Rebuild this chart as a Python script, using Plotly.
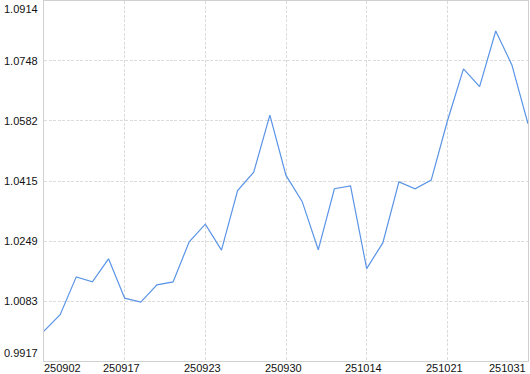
import plotly.graph_objects as go

# Data
point_index = list(range(31))
values = [1.0000, 1.0045, 1.0150, 1.0136, 1.0200, 1.0091, 1.0080, 1.0128, 1.0136,
          1.0247, 1.0296, 1.0224, 1.0389, 1.0440, 1.0598, 1.0431, 1.0359, 1.0225,
          1.0394, 1.0402, 1.0173, 1.0244, 1.0413, 1.0394, 1.0418, 1.0581, 1.0726,
          1.0677, 1.0831, 1.0737, 1.0574]
x_tick_pos = [0, 5, 10, 15, 20, 25, 30]
x_tick_labels = ["250902", "250917", "250923", "250930", "251014", "251021", "251031"]
y_tick_vals = [0.9917, 1.0083, 1.0249, 1.0415, 1.0582, 1.0748, 1.0914]
y_tick_labels = ["0.9917", "1.0083", "1.0249", "1.0415", "1.0582", "1.0748", "1.0914"]

FONT = "Liberation Sans"
TEXT_COLOR = "#111111"

fig = go.Figure()
fig.add_trace(go.Scatter(
    x=point_index, y=values, mode="lines",
    line=dict(color="#5a94e6", width=1.2),
    hoverinfo="skip", showlegend=False,
))

annotations = []
# y-axis labels
n_y = len(y_tick_vals)
for i, (v, lab) in enumerate(zip(y_tick_vals, y_tick_labels)):
    if i == 0:
        ya = "bottom"
    elif i == n_y - 1:
        ya = "top"
    else:
        ya = "middle"
    annotations.append(dict(
        x=0, xref="paper", y=v, yref="y", text=lab, showarrow=False,
        xanchor="right", yanchor=ya, xshift=-4,
        font=dict(family=FONT, size=11, color=TEXT_COLOR),
    ))
# x-axis labels
n_x = len(x_tick_pos)
for i, (p, lab) in enumerate(zip(x_tick_pos, x_tick_labels)):
    if i == 0:
        xa, xs = "left", -2
    elif i == n_x - 1:
        xa, xs = "right", 0
    else:
        xa, xs = "center", -3
    annotations.append(dict(
        x=p, xref="x", y=0, yref="paper", text=lab, showarrow=False,
        xanchor=xa, yanchor="top", xshift=xs, yshift=1,
        font=dict(family=FONT, size=11, color=TEXT_COLOR),
    ))

fig.update_layout(
    width=530, height=374,
    margin=dict(l=44, r=2, t=1, b=13),
    paper_bgcolor="white", plot_bgcolor="white",
    annotations=annotations,
    xaxis=dict(
        range=[0, 30], tickvals=x_tick_pos, showticklabels=False, ticks="",
        showgrid=True, gridcolor="#dcdcdc", griddash="3px,1.5px", gridwidth=1,
        showline=True, linecolor="#d0d0d0", linewidth=1, mirror=True,
        zeroline=False, fixedrange=True,
    ),
    yaxis=dict(
        range=[0.9917, 1.0914], tickvals=y_tick_vals, showticklabels=False, ticks="",
        showgrid=True, gridcolor="#dcdcdc", griddash="3px,1.5px", gridwidth=1,
        showline=True, linecolor="#d0d0d0", linewidth=1, mirror=True,
        zeroline=False, fixedrange=True,
    ),
)

fig.write_html("out.html")
